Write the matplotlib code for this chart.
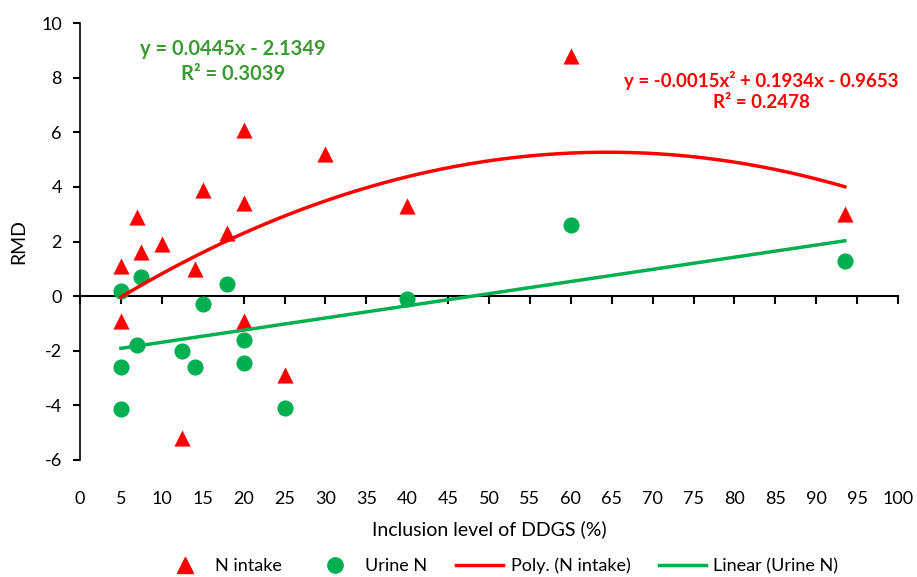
import numpy as np
import matplotlib
matplotlib.use("Agg")
import matplotlib.pyplot as plt
from matplotlib.lines import Line2D

plt.rcParams['font.family'] = ['Lato', 'DejaVu Sans']
plt.rcParams['axes.unicode_minus'] = False

# N intake (triangles)
n_x = [5, 5, 7, 7.5, 10, 14, 15, 18, 20, 20, 20, 25, 12.5, 30, 40, 60, 93.5]
n_y = [1.1, -0.9, 2.9, 1.6, 1.9, 1.0, 3.9, 2.3, 6.1, 3.4, -0.9, -2.9, -5.2, 5.2, 3.3, 8.8, 3.0]

# Urine N (circles)
u_x = [5, 7.5, 5, 5, 7, 12.5, 14, 15, 18, 20, 20, 25, 40, 60, 93.5]
u_y = [0.2, 0.7, -2.6, -4.15, -1.8, -2.0, -2.6, -0.3, 0.45, -1.6, -2.45, -4.1, -0.1, 2.6, 1.3]

# trendline coefficients as printed on the chart
poly_c = [-0.0015, 0.1934, -0.9653]
lin_c = [0.0445, -2.1349]

RED = '#ff0000'
GREEN = '#00b050'
TXT_GREEN = '#3c9a32'

fig = plt.figure(figsize=(9.17, 5.77), dpi=100)
ax = fig.add_axes([80/917, 1-460/577, 818/917, 437/577])

ax.scatter(n_x, n_y, marker='^', s=135, color=RED, zorder=3, linewidths=0)
ax.scatter(u_x, u_y, marker='o', s=135, color=GREEN, zorder=3, linewidths=0)

xs = np.linspace(min(n_x), max(n_x), 200)
ax.plot(xs, np.polyval(poly_c, xs), color=RED, lw=2.5, zorder=4)
xl = np.array([min(u_x), max(u_x)])
ax.plot(xl, np.polyval(lin_c, xl), color=GREEN, lw=2.5, zorder=4)

ax.set_xlim(0, 100)
ax.set_ylim(-6, 10)
ax.set_xticks(np.arange(0, 101, 5))
ax.set_yticks(np.arange(-6, 11, 2))

for s in ['top', 'right', 'bottom']:
    ax.spines[s].set_visible(False)
ax.spines['left'].set_linewidth(1.2)
ax.tick_params(axis='x', length=0, labelsize=13, pad=22)
ax.tick_params(axis='y', direction='out', length=5, width=1.5, labelsize=13, pad=8)

# x axis line drawn through y = 0 with its tick marks
sec = ax.secondary_xaxis(6/16)
sec.set_xticks(np.arange(0, 101, 5))
sec.tick_params(axis='x', direction='out', length=6, width=1.5, labelbottom=False)
sec.spines['bottom'].set_linewidth(1.5)

ax.set_xlabel('Inclusion level of DDGS (%)', fontsize=14, labelpad=10)
ax.set_ylabel('RMD', fontsize=14, labelpad=10)

ax.text(0.187, 0.911, 'y = 0.0445x - 2.1349\nR² = 0.3039', transform=ax.transAxes,
        ha='center', va='center', color=TXT_GREEN, fontsize=14.5, fontweight='bold',
        linespacing=1.3)
ax.text(0.833, 0.844, 'y = -0.0015x² + 0.1934x - 0.9653\nR² = 0.2478', transform=ax.transAxes,
        ha='center', va='center', color=RED, fontsize=13.5, fontweight='bold',
        linespacing=1.3)

handles = [
    Line2D([], [], marker='^', color=RED, ls='none', markersize=11),
    Line2D([], [], marker='o', color=GREEN, ls='none', markersize=11),
    Line2D([], [], color=RED, lw=2.5),
    Line2D([], [], color=GREEN, lw=2.5),
]
labels = ['N intake', 'Urine N', 'Poly. (N intake)', 'Linear (Urine N)']
fig.legend(handles, labels, loc='center', bbox_to_anchor=(0.545, 1-566/577), ncol=4,
           frameon=False, fontsize=13, handlelength=2.6, columnspacing=1.6,
           handletextpad=0.4)

fig.savefig('out.png', dpi=100)
